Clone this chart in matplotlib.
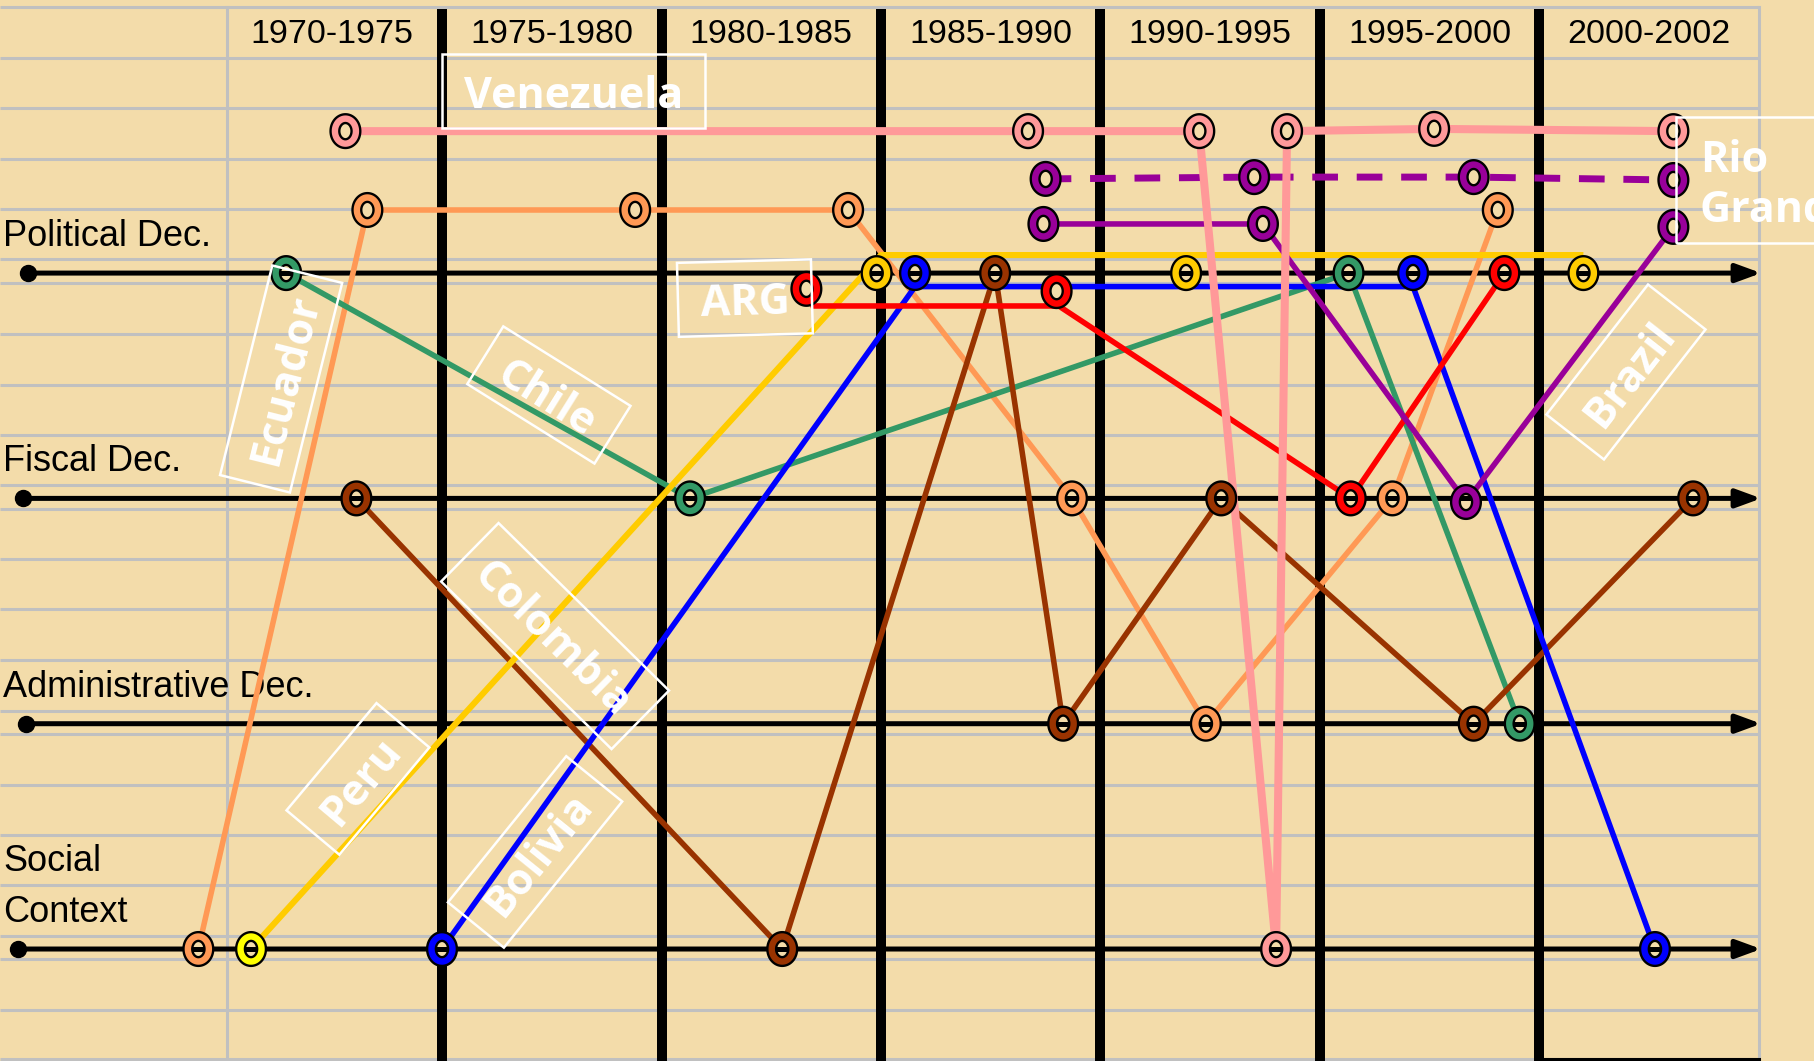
import numpy as np
import matplotlib
matplotlib.use('Agg')
import matplotlib.pyplot as plt
from matplotlib.path import Path
from matplotlib.patches import Rectangle
from matplotlib.transforms import Affine2D

BG = '#F3DCAA'
GRID = '#C0C0C0'

# ---------------- data ----------------
periods = ['1970-1975', '1975-1980', '1980-1985', '1985-1990',
           '1990-1995', '1995-2000', '2000-2002']
row_labels = ['Political Dec.', 'Fiscal Dec.', 'Administrative Dec.', 'Social', 'Context']
row_label_levels = [3.12, 2.123, 1.12, 0.348, 0.121]
axis_levels = [3, 2, 1, 0]
axis_starts = [-0.886, -0.909, -0.895, -0.932]

grid_levels = [4.181, 3.955, 3.733, 3.506, 3.285, 3.063, 2.956, 2.730, 2.503,
               2.281, 2.059, 1.953, 1.731, 1.509, 1.283, 1.056, 0.954, 0.728,
               0.506, 0.284, 0.058, -0.044, -0.271, -0.488]
period_bounds = [1, 2, 3, 4, 5, 6]

# x = period position (column index), y = decentralisation level
venezuela_x = [0.56, 3.67, 4.45, 4.80, 4.85, 5.52, 6.61]
venezuela_y = [3.63, 3.63, 3.63, 0.00, 3.63, 3.64, 3.63]

ecuador_x = [-0.11, 0.66, 1.88, 2.85, 3.87, 4.48, 5.33, 5.81]
ecuador_y = [0.0, 3.28, 3.28, 3.28, 2.0, 1.0, 2.0, 3.28]

chile_x = [0.29, 2.13, 5.13, 5.91]
chile_y = [3.0, 2.0, 3.0, 1.0]

colombia_x = [0.61, 2.55, 3.52, 3.83, 4.55, 5.70, 6.70]
colombia_y = [2.0, 0.0, 3.0, 1.0, 2.0, 1.0, 2.0]

peru_line_x = [0.13, 3.00, 6.20]
peru_line_y = [0.0, 3.08, 3.08]
peru_x = [0.13, 2.98, 4.39, 6.20]
peru_y = [0.0, 3.0, 3.0, 3.0]
peru_colors = ['#FFFF00', '#FFCC00', '#FFCC00', '#FFCC00']

bolivia_line_x = [1.00, 3.155, 5.424, 6.526]
bolivia_line_y = [0.0, 2.94, 2.94, 0.0]
bolivia_x = [1.00, 3.155, 5.424, 6.526]
bolivia_y = [0.0, 3.0, 3.0, 0.0]

arg_line_x = [2.66, 2.69, 3.81, 5.14, 5.84]
arg_line_y = [2.93, 2.854, 2.854, 2.0, 3.0]
arg_x = [2.66, 3.80, 5.14, 5.84]
arg_y = [2.93, 2.92, 2.0, 3.0]

brazil_x = [3.74, 4.74, 5.665, 6.61]
brazil_y = [3.218, 3.218, 1.984, 3.205]

riogrande_x = [3.75, 4.70, 5.70, 6.61]
riogrande_y = [3.418, 3.426, 3.426, 3.413]

label_names = ['Venezuela', 'Ecuador', 'Chile', 'Colombia', 'Peru', 'Bolivia', 'ARG', 'Brazil']
label_x = [1.599, 0.267, 1.487, 1.515, 0.617, 1.424, 2.380, 6.394]
label_y = [3.808, 2.530, 2.459, 1.389, 0.755, 0.431, 2.889, 2.561]
label_angle = [0, 76, -32, -44.5, 50, 51, 1.5, 52]
box_w = [263, 216, 150, 239, 140, 188, 134, 165]
box_h = [74, 72, 68, 82, 69, 72, 74, 73]

# ---------------- figure ----------------
fig = plt.figure(figsize=(18.14, 10.61), dpi=100, facecolor=BG)
ax = fig.add_axes([0, 0, 1, 1])
ax.set_xlim(-1.0137, 7.2506)
ax.set_ylim(-0.497, 4.212)
ax.axis('off')

# grid
for g in grid_levels:
    ax.plot([-1.0137, 7.0], [g, g], color=GRID, lw=2.2, zorder=1, solid_capstyle='butt')
ax.plot([0.0205, 0.0205], [4.181, -0.497], color=GRID, lw=2.2, zorder=1)
ax.plot([7.0, 7.0], [4.181, -0.497], color=GRID, lw=2.2, zorder=1)
for b in period_bounds:
    ax.plot([b, b], [4.172, -0.497], color='black', lw=7.2, zorder=2, solid_capstyle='butt')
ax.plot([6, 7], [-0.488, -0.488], color='black', lw=2.2, zorder=2)

# period labels
for i, p in enumerate(periods):
    ax.text(i + 0.5, 4.021, p, ha='center', va='baseline', fontsize=24.5,
            family='Liberation Sans', zorder=3)

# row labels
for t, lv in zip(row_labels, row_label_levels):
    ax.text(-1.0, lv, t, ha='left', va='baseline', fontsize=26,
            family='Liberation Sans', zorder=3)

# axis arrows
for lv, st in zip(axis_levels, axis_starts):
    ax.annotate('', xy=(7.01, lv), xytext=(st, lv),
                arrowprops=dict(arrowstyle='-|>,head_length=1.5,head_width=0.55',
                                color='black', lw=3.6, shrinkA=0, shrinkB=0,
                                mutation_scale=10),
                zorder=3)
    ax.plot([st], [lv], 'o', ms=11.5, color='black', zorder=3)

# ring marker
t = np.linspace(0, 2 * np.pi, 73)
ring = Path(np.column_stack([0.42 * np.cos(t), 0.5 * np.sin(t)]), closed=True)
MS = 18.0 ** 2


def draw_series(lx, ly, mx, my, color, lw=4.0, ls='-', mcolors=None, z=4):
    ax.plot(lx, ly, color=color, lw=lw, ls=ls, zorder=z, solid_joinstyle='miter',
            solid_capstyle='butt')
    mx = np.asarray(mx); my = np.asarray(my)
    cols = mcolors if mcolors is not None else [color] * len(mx)
    ax.scatter(mx, my, s=MS, marker=ring, facecolors=BG, edgecolors='none', zorder=6)
    on_axis = np.isclose(my, np.round(my), atol=0.03)
    if on_axis.any():
        ax.scatter(mx[on_axis], np.round(my[on_axis]), s=10 ** 2, marker='_',
                   color='black', linewidths=3.6, zorder=6.2)
    ax.scatter(mx, my, s=MS, marker=ring, facecolors='none', edgecolors='black',
               linewidths=8.0, zorder=6.4)
    ax.scatter(mx, my, s=MS, marker=ring, facecolors='none', edgecolors=cols,
               linewidths=4.6, zorder=6.6)


draw_series(ecuador_x, ecuador_y, ecuador_x, ecuador_y, '#FF9955')
draw_series(chile_x, chile_y, chile_x, chile_y, '#339966')
draw_series(colombia_x, colombia_y, colombia_x, colombia_y, '#993300')
draw_series(peru_line_x, peru_line_y, peru_x, peru_y, '#FFCC00', lw=4.4, mcolors=peru_colors)
draw_series(bolivia_line_x, bolivia_line_y, bolivia_x, bolivia_y, '#0000FF')
draw_series(arg_line_x, arg_line_y, arg_x, arg_y, '#FF0000')
draw_series(brazil_x, brazil_y, brazil_x, brazil_y, '#990099')
draw_series(riogrande_x, riogrande_y, riogrande_x, riogrande_y, '#990099', lw=5.0,
            ls=(0, (3.7, 2.7)))
draw_series(venezuela_x, venezuela_y, venezuela_x, venezuela_y, '#FF9999', lw=5.8, z=4.5)

# country labels with rotated white boxes
for name, lx, ly, ang, w, h in zip(label_names, label_x, label_y, label_angle, box_w, box_h):
    cx, cy = ax.transData.transform((lx, ly))
    tr = Affine2D().rotate_deg(ang).translate(cx, cy)
    ax.add_patch(Rectangle((-w / 2, -h / 2), w, h, fill=False, ec='white', lw=1.8,
                           transform=tr, zorder=9, clip_on=False))
    ax.text(lx, ly, name, rotation=ang, rotation_mode='anchor', ha='center',
            va='center_baseline', color='white', fontsize=31, fontweight='bold',
            family='Open Sans', zorder=10)

# Rio Grande box (extends beyond the right edge, as in the original slide)
x0, y0 = ax.transData.transform((6.622, 3.134))
x1, y1 = ax.transData.transform((7.30, 3.693))
ax.add_patch(Rectangle((x0, y0), x1 - x0, y1 - y0, fill=False, ec='white', lw=1.8,
                       transform=None, zorder=9, clip_on=False))
ax.text(6.731, 3.449, 'Rio', ha='left', va='baseline', color='white', fontsize=31,
        fontweight='bold', family='Open Sans', zorder=10)
ax.text(6.731, 3.227, 'Grande', ha='left', va='baseline', color='white', fontsize=31,
        fontweight='bold', family='Open Sans', zorder=10)

fig.savefig('out.png', dpi=100, facecolor=BG)
